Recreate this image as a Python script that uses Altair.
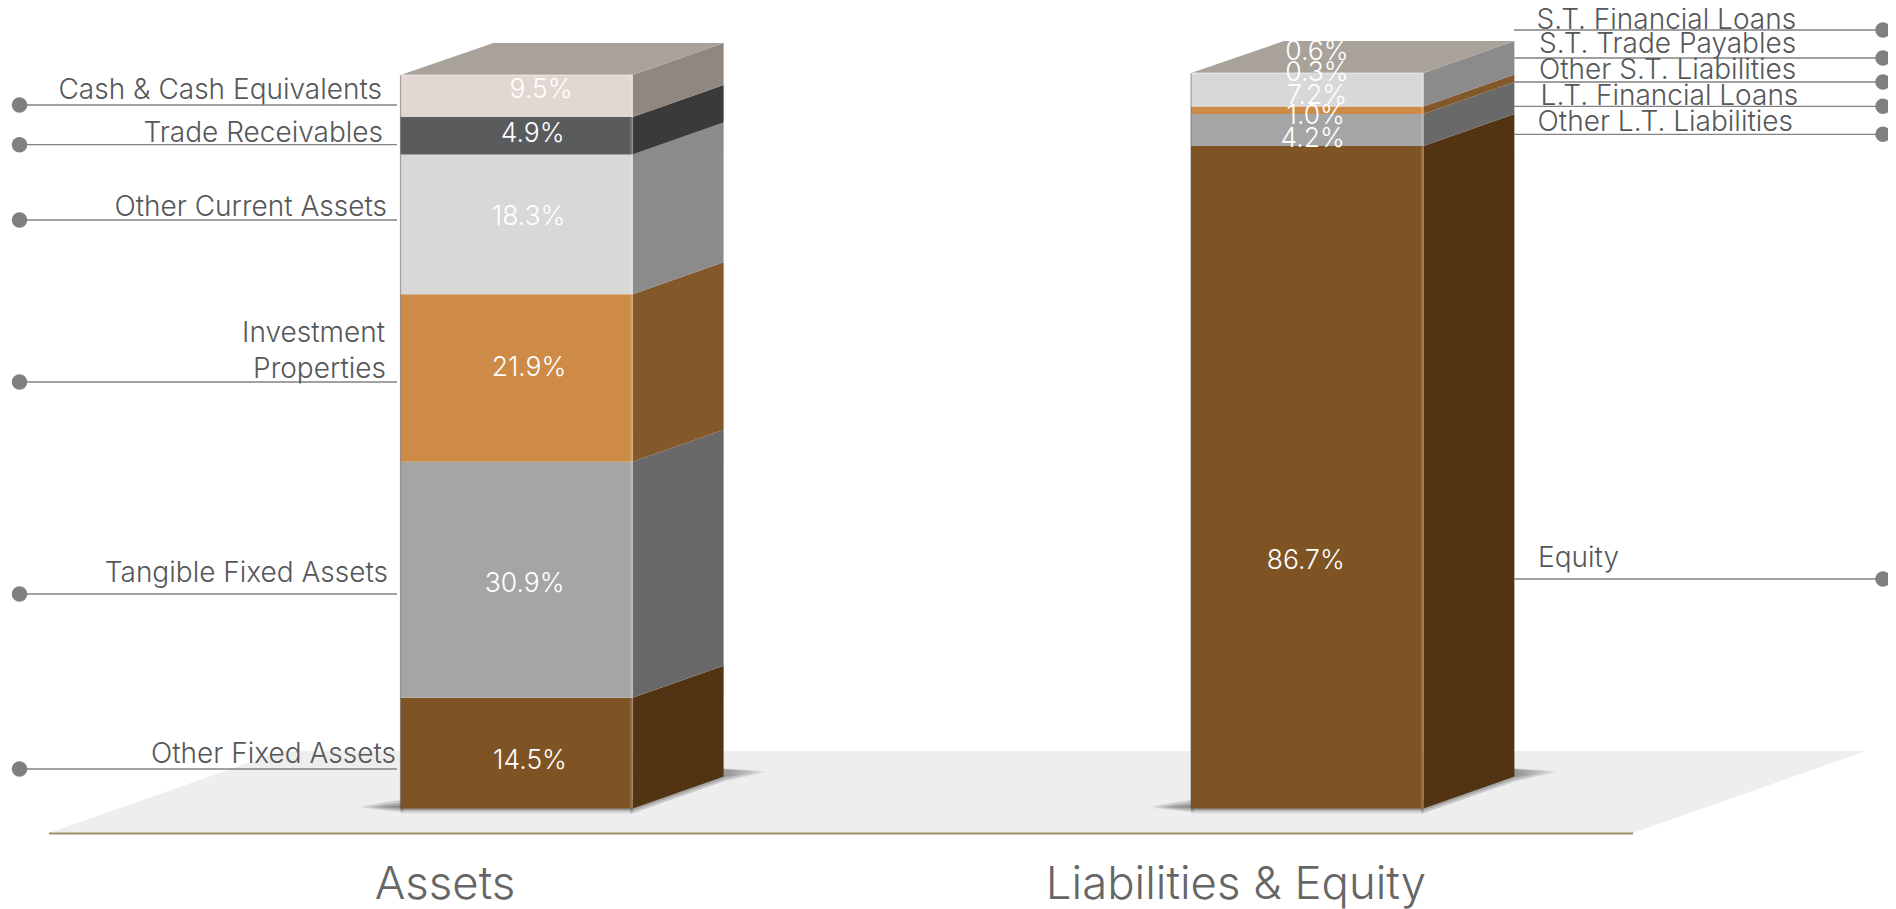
import altair as alt
import pandas as pd

# ---- values ----
asset_names = ["Other Fixed Assets", "Tangible Fixed Assets", "Investment Properties",
               "Other Current Assets", "Trade Receivables", "Cash & Cash Equivalents"]
asset_values = [14.5, 30.9, 21.9, 18.3, 4.9, 9.5]
liab_names = ["Equity", "Other L.T. Liabilities", "L.T. Financial Loans",
              "Other S.T. Liabilities", "S.T. Trade Payables", "S.T. Financial Loans"]
liab_values = [86.7, 4.2, 1.0, 7.2, 0.3, 0.6]
titles = ["Assets", "Liabilities & Equity"]

# ---- styles ----
front_colors = ["#7f5424", "#a5a5a5", "#cd8b47", "#d8d8d8", "#5a5b5d", "#e2d7d1"]
side_colors = ["#523413", "#696969", "#83592c", "#8b8b8b", "#3a3a3b", "#8f8780"]
TOP = "#a9a29b"
FONT = "Inter"
TXT = "#55575a"

# ---- layout (page pixels) ----
W, H = 1880, 901
Y0, PX = 808.5, 7.64           # page y of 0 %, pixels per 1 %
DX, DEPTH = 91, 32 / 7.64      # depth of a column
bars = [(400.5, 632.6, 96.0), (1191.0, 1423.4, 96.27)]


def pct(y):
    return (Y0 - y) / PX


xs = alt.Scale(domain=[8, 8 + W], range=[0, W], nice=False, zero=False)
ys = alt.Scale(domain=[pct(8 + H), pct(8)], range=[H, 0], nice=False, zero=False)
X = lambda f: alt.X(f, type="quantitative", scale=xs, axis=None)
Y = lambda f: alt.Y(f, type="quantitative", scale=ys, axis=None)
X2 = lambda f: alt.X2(f)
Y2 = lambda f: alt.Y2(f)

# ---- faces built from the values ----
front, side, top = [], [], []
for b, (vals, (xl, xr, cap)) in enumerate(zip([asset_values, liab_values], bars)):
    cum = 0.0
    for i, v in enumerate(vals):
        lo, hi = min(cum, cap), min(cum + v, cap)
        cum += v
        if hi <= lo:
            continue
        front.append(dict(x=xl, x2=xr, y=lo, y2=hi, c=front_colors[i]))
        key = f"{b}-{i}"
        side.append(dict(k=key, x=xr, y=lo, y2=hi, c=side_colors[i]))
        side.append(dict(k=key, x=xr + DX, y=lo + DEPTH, y2=hi + DEPTH, c=side_colors[i]))
    top.append(dict(k=b, y=cap, x=xl, x2=xr))
    top.append(dict(k=b, y=cap + DEPTH, x=xl + DX + 2, x2=xr + DX))

front_df, side_df, top_df = map(pd.DataFrame, (front, side, top))

front_l = alt.Chart(front_df).mark_rect().encode(
    x=X("x"), x2=X2("x2"), y=Y("y"), y2=Y2("y2"), color=alt.Color("c:N", scale=None))
side_l = alt.Chart(side_df).mark_area().encode(
    x=X("x"), y=Y("y"), y2=Y2("y2"), detail="k:N", color=alt.Color("c:N", scale=None))
top_l = alt.Chart(top_df).mark_area(orient="horizontal", color=TOP).encode(
    y=Y("y"), x=X("x"), x2=X2("x2"), detail="k:N")

# bevels of the front face
bev = pd.DataFrame([dict(x=r - 1, y=0, y2=c) for _, r, c in bars])
bev_r = alt.Chart(bev).mark_rule(color="white", opacity=0.16, strokeWidth=3).encode(x=X("x"), y=Y("y"), y2=Y2("y2"))
bev2 = pd.DataFrame([dict(x=l, y=0, y2=c) for l, _, c in bars])
bev_l = alt.Chart(bev2).mark_rule(color="#555555", opacity=0.5, strokeWidth=1.2).encode(x=X("x"), y=Y("y"), y2=Y2("y2"))
bev3 = pd.DataFrame([dict(x=l, x2=r, y=c) for l, r, c in bars])
bev_t = alt.Chart(bev3).mark_rule(color="white", opacity=0.3, strokeWidth=2).encode(x=X("x"), x2=X2("x2"), y=Y("y"))

# ---- floor and shadows ----
floor = pd.DataFrame([dict(y=pct(833), x=49, x2=1633), dict(y=pct(751), x=282, x2=1866)])
floor_l = alt.Chart(floor).mark_area(orient="horizontal", color="#eeeeee").encode(y=Y("y"), x=X("x"), x2=X2("x2"))
base_l = alt.Chart(pd.DataFrame([dict(x=49, x2=1633, y=pct(833.5))])).mark_rule(
    color="#a28f68", strokeWidth=2).encode(x=X("x"), x2=X2("x2"), y=Y("y"))


def grad(stops, x2=1, y2=0):
    return alt.LinearGradient(gradient="linear", x1=0, y1=0, x2=x2, y2=y2,
                              stops=[alt.GradientStop(color=c, offset=o) for o, c in stops])


FADE_IN = grad([(0, "rgba(110,110,110,0)"), (0.6, "rgba(110,110,110,0.75)"), (1, "rgba(110,110,110,1)")])
FADE_OUT = grad([(0, "rgba(110,110,110,1)"), (0.65, "rgba(110,110,110,0.9)"), (1, "rgba(110,110,110,0)")])
shadows = []
for xl, xr, _ in bars:
    # soft tapered blobs, left of the column, under it and to its right
    for up, down, op in [(1.5, 1, 0.5), (3.5, 3, 0.4), (6, 5, 0.3)]:
        a = pd.DataFrame([dict(x=xl - 42, y=pct(807 + down * 0.2), y2=pct(807 - up * 0.2)),
                          dict(x=xl + 3, y=pct(807 + down), y2=pct(807 - up * 1.2))])
        shadows.append(alt.Chart(a).mark_area(color=FADE_IN, opacity=op).encode(
            x=X("x"), y=Y("y"), y2=Y2("y2")))
        c = pd.DataFrame([dict(x=xr - 2, y=pct(808 + down * 1.2), y2=pct(800)),
                          dict(x=xr + DX, y=pct(776 + down * 1.1), y2=pct(770 - up * 0.3)),
                          dict(x=xr + 134, y=pct(772 + down * 0.1), y2=pct(771.5 - up * 0.1))])
        shadows.append(alt.Chart(c).mark_area(color=FADE_OUT, opacity=op).encode(
            x=X("x"), y=Y("y"), y2=Y2("y2")))
    for down, op in [(1.5, 0.5), (3, 0.3), (5, 0.16)]:
        b = pd.DataFrame([dict(x=xl, x2=xr, y=pct(807), y2=pct(808.5 + down))])
        shadows.append(alt.Chart(b).mark_rect(color="#6e6e6e", opacity=op).encode(
            x=X("x"), x2=X2("x2"), y=Y("y"), y2=Y2("y2")))

# ---- leaders ----
left_lead = [105, 144.7, 220, 382, 594, 769]
right_lead = [30, 58, 82, 106.3, 134.3, 579]
leaders = pd.DataFrame(
    [dict(x=19.5, x2=397, y=pct(y)) for y in left_lead]
    + [dict(x=1514, x2=1888, y=pct(y)) for y in right_lead])
lead_l = alt.Chart(leaders).mark_rule(color="#828282", strokeWidth=1.3).encode(x=X("x"), x2=X2("x2"), y=Y("y"))
dots = pd.DataFrame(
    [dict(x=19.5, y=pct(y)) for y in left_lead] + [dict(x=1883, y=pct(y)) for y in right_lead])
dot_l = alt.Chart(dots).mark_circle(color="#808080", size=240, opacity=1).encode(x=X("x"), y=Y("y"))

# ---- label placement ----
left_text = [("Cash & Cash Equivalents", 382, 98.5), ("Trade Receivables", 383, 142),
             ("Other Current Assets", 387, 215.5), ("Investment", 385, 341.5), ("Properties", 386, 378),
             ("Tangible Fixed Assets", 388, 582), ("Other Fixed Assets", 396, 762.5)]
right_text = [("S.T. Financial Loans", 1536.5, 28.5), ("S.T. Trade Payables", 1539, 52.7),
              ("Other S.T. Liabilities", 1539, 78.5), ("L.T. Financial Loans", 1540.6, 104.7),
              ("Other L.T. Liabilities", 1537.6, 131), ("Equity", 1538, 567)]
a_pos = [(530, 769), (524.7, 592), (529, 376), (528.6, 225), (532.6, 141.7), (541, 98)]
l_pos = [(1305.7, 569), (1312.7, 146.7), (1315.7, 124.3), (1317, 104), (1317, 80.7), (1317, 59.5)]
title_pos = [(445, 899), (1236, 899)]


def text_layer(rows, align, size, color, weight=300):
    df = pd.DataFrame([dict(t=t, x=x, y=pct(y)) for t, x, y in rows])
    return alt.Chart(df).mark_text(align=align, baseline="alphabetic", font=FONT, fontSize=size,
                                   fontWeight=weight, color=color).encode(x=X("x"), y=Y("y"), text="t:N")


pct_rows = [(f"{v:.1f}%", x, y) for v, (x, y) in zip(asset_values + liab_values, a_pos + l_pos)]

chart = alt.layer(
    floor_l, base_l, *shadows, side_l, front_l, top_l, bev_r, bev_l, bev_t,
    lead_l, dot_l,
    text_layer(left_text, "right", 28, TXT),
    text_layer(right_text, "left", 28, TXT),
    text_layer(pct_rows, "center", 26.5, "white"),
    text_layer(list(zip(titles, [x for x, _ in title_pos], [y for _, y in title_pos])), "center", 45.5, "#666666"),
).properties(width=W, height=H, padding=0, background="white",
             autosize=alt.AutoSizeParams(type="none")
).configure_view(strokeWidth=0, stroke="transparent")

chart.save("out.html", embed_options={"renderer": "svg", "actions": False})
